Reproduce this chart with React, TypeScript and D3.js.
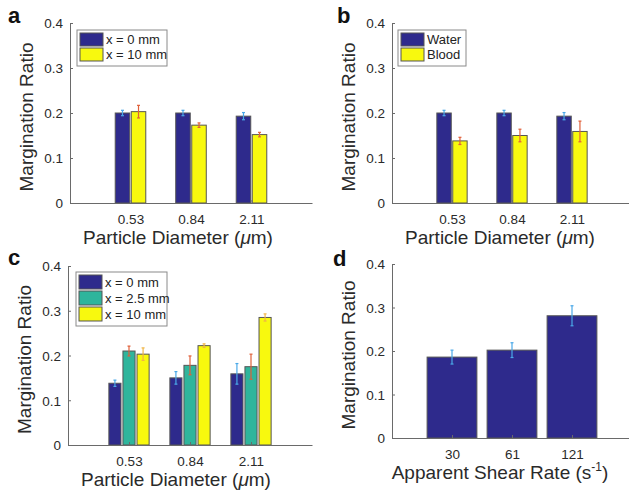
import * as d3 from "d3";
import React, { useEffect, useRef } from "react";

// data
const diameters = ["0.53", "0.84", "2.11"];
const shearRates = ["30", "61", "121"];
const yTicks = [0, 0.1, 0.2, 0.3, 0.4];

const aLabels = ["x = 0 mm", "x = 10 mm"];
const aX0 = [0.2, 0.2, 0.193];
const aX0Err = [0.006, 0.006, 0.008];
const aX10 = [0.203, 0.173, 0.152];
const aX10Err = [0.014, 0.005, 0.005];

const bLabels = ["Water", "Blood"];
const bWater = [0.2, 0.2, 0.193];
const bWaterErr = [0.006, 0.006, 0.008];
const bBlood = [0.138, 0.15, 0.159];
const bBloodErr = [0.008, 0.014, 0.023];

const cLabels = ["x = 0 mm", "x = 2.5 mm", "x = 10 mm"];
const cX0 = [0.138, 0.15, 0.159];
const cX0Err = [0.007, 0.014, 0.023];
const cX25 = [0.21, 0.178, 0.175];
const cX25Err = [0.011, 0.021, 0.028];
const cX10 = [0.203, 0.222, 0.285];
const cX10Err = [0.014, 0.004, 0.008];

const dValues = [0.186, 0.202, 0.281];
const dErr = [0.016, 0.017, 0.023];

const navy = "#2e2a8c";
const teal = "#2fb59c";
const yellow = "#f8f90e";
const errBlue = "#4aa8e8";
const errRed = "#e0603a";
const errOrange = "#f0b545";

const font = "Liberation Sans, Arial, Helvetica, sans-serif";

type Series = { values: number[]; err: number[]; fill: string; errColor: string; label?: string };

type PanelCfg = {
  letter: string;
  left: number;
  y0: number;
  yTop: number;
  width: number;
  cats: string[];
  series: Series[];
  groupWidth: number;
  pad: number;
  xTitle: string;
  superscript?: string;
  tickBase: number;
  titleBase: number;
  letterX: number;
  letterY: number;
  legend?: { x: number; y: number; w: number; rowH: number };
};

const panels: PanelCfg[] = [
  {
    letter: "a", left: 70, y0: 203, yTop: 23, width: 242, cats: diameters,
    series: [
      { values: aX0, err: aX0Err, fill: navy, errColor: errBlue, label: aLabels[0] },
      { values: aX10, err: aX10Err, fill: yellow, errColor: errRed, label: aLabels[1] },
    ],
    groupWidth: 0.505, pad: 0.094, xTitle: "Particle Diameter (", tickBase: 224, titleBase: 244,
    letterX: 8, letterY: 23, legend: { x: 77, y: 30, w: 90, rowH: 15 },
  },
  {
    letter: "b", left: 392, y0: 203, yTop: 23, width: 240, cats: diameters,
    series: [
      { values: bWater, err: bWaterErr, fill: navy, errColor: errBlue, label: bLabels[0] },
      { values: bBlood, err: bBloodErr, fill: yellow, errColor: errRed, label: bLabels[1] },
    ],
    groupWidth: 0.505, pad: 0.094, xTitle: "Particle Diameter (", tickBase: 224, titleBase: 244,
    letterX: 337, letterY: 23, legend: { x: 398, y: 30, w: 68, rowH: 15 },
  },
  {
    letter: "c", left: 68, y0: 445, yTop: 266, width: 244, cats: diameters,
    series: [
      { values: cX0, err: cX0Err, fill: navy, errColor: errBlue, label: cLabels[0] },
      { values: cX25, err: cX25Err, fill: teal, errColor: errRed, label: cLabels[1] },
      { values: cX10, err: cX10Err, fill: yellow, errColor: errOrange, label: cLabels[2] },
    ],
    groupWidth: 0.66, pad: 0.14, xTitle: "Particle Diameter (", tickBase: 466, titleBase: 486,
    letterX: 8, letterY: 265, legend: { x: 76, y: 272, w: 91, rowH: 16 },
  },
  {
    letter: "d", left: 392, y0: 438, yTop: 264, width: 240, cats: shearRates,
    series: [{ values: dValues, err: dErr, fill: navy, errColor: errBlue }],
    groupWidth: 0.83, pad: 0, xTitle: "Apparent Shear Rate (s", superscript: "-1",
    tickBase: 459, titleBase: 479, letterX: 333, letterY: 266,
  },
];

function drawPanel(svg: d3.Selection<SVGSVGElement, unknown, null, undefined>, p: PanelCfg) {
  const g = svg.append("g");
  const y = d3.scaleLinear().domain([0, 0.4]).range([p.y0, p.yTop]);
  const x = d3.scaleLinear().domain([0, 4]).range([p.left, p.left + p.width]);
  const unit = x(1) - x(0);
  const sub = d3.scaleBand<number>()
    .domain(d3.range(p.series.length))
    .range([-p.groupWidth / 2, p.groupWidth / 2])
    .paddingInner(p.pad);

  // bars
  p.series.forEach((s, si) => {
    g.selectAll(null).data(s.values).enter().append("rect")
      .attr("x", (d, i) => x(i + 1 + (sub(si) as number)))
      .attr("y", d => y(d))
      .attr("width", sub.bandwidth() * unit)
      .attr("height", d => y(0) - y(d))
      .attr("fill", s.fill)
      .attr("stroke", "#555")
      .attr("stroke-width", 1);
  });

  // error bars
  p.series.forEach((s, si) => {
    const cx = (i: number) => x(i + 1 + (sub(si) as number) + sub.bandwidth() / 2);
    const eb = g.selectAll(null).data(s.values).enter().append("g")
      .attr("stroke", s.errColor).attr("stroke-width", 1.2);
    eb.append("line")
      .attr("x1", (d, i) => cx(i)).attr("x2", (d, i) => cx(i))
      .attr("y1", (d, i) => y(d - s.err[i])).attr("y2", (d, i) => y(d + s.err[i]));
    [-1, 1].forEach(sign => {
      eb.append("line")
        .attr("x1", (d, i) => cx(i) - 1.5).attr("x2", (d, i) => cx(i) + 1.5)
        .attr("y1", (d, i) => y(d + sign * s.err[i])).attr("y2", (d, i) => y(d + sign * s.err[i]));
    });
  });

  // axes
  const yAxis = g.append("g")
    .attr("transform", `translate(${p.left},0)`)
    .call(d3.axisLeft(y).tickValues(yTicks).tickSizeInner(-3).tickSizeOuter(0).tickPadding(7)
      .tickFormat(d => (d === 0 ? "0" : d3.format(".1f")(d as number))));
  const xAxis = g.append("g")
    .attr("transform", `translate(0,${p.y0})`)
    .call(d3.axisBottom(x).tickValues([1, 2, 3]).tickSizeInner(-3).tickSizeOuter(0)
      .tickFormat(d => p.cats[(d as number) - 1]));
  [yAxis, xAxis].forEach(a => {
    a.selectAll("path,line").attr("stroke", "#6a6a6a");
    a.selectAll("text").attr("font-family", font).attr("font-size", 13.5).attr("fill", "#2a2a2a");
  });
  xAxis.selectAll("text").attr("dy", null).attr("y", p.tickBase - p.y0);
  yAxis.selectAll("text").attr("dy", "0.36em");

  // titles
  g.append("text")
    .attr("transform", `translate(${p.left - 37},${(p.y0 + p.yTop) / 2 + 4}) rotate(-90)`)
    .attr("text-anchor", "middle").attr("font-family", font).attr("font-size", 19)
    .attr("fill", "#2a2a2a").text("Margination Ratio");
  const xt = g.append("text")
    .attr("x", p.left + 108).attr("y", p.titleBase)
    .attr("text-anchor", "middle").attr("font-family", font).attr("font-size", 19)
    .attr("fill", "#2a2a2a");
  xt.append("tspan").text(p.xTitle);
  if (p.superscript) {
    xt.append("tspan").attr("font-size", 12).attr("dy", -8).text(p.superscript);
    xt.append("tspan").attr("dy", 8).text(")");
  } else {
    xt.append("tspan").attr("font-style", "italic").text("\u03bc");
    xt.append("tspan").text("m)");
  }

  g.append("text")
    .attr("x", p.letterX).attr("y", p.letterY)
    .attr("font-family", font).attr("font-weight", "bold").attr("font-size", 22)
    .attr("fill", "#111").text(p.letter);

  // legend
  if (p.legend) {
    const L = p.legend;
    const n = p.series.length;
    g.append("rect")
      .attr("x", L.x).attr("y", L.y).attr("width", L.w).attr("height", n * L.rowH + 6)
      .attr("fill", "#fff").attr("stroke", "#8a8a8a").attr("stroke-width", 1);
    const row = g.selectAll(null).data(p.series).enter().append("g")
      .attr("transform", (d, i) => `translate(${L.x + 3},${L.y + 3 + i * L.rowH})`);
    row.append("rect")
      .attr("width", 23).attr("height", L.rowH - 2)
      .attr("fill", d => d.fill).attr("stroke", "#555");
    row.append("text")
      .attr("x", 26).attr("y", (L.rowH - 2) / 2).attr("dy", "0.36em")
      .attr("font-family", font).attr("font-size", 13).attr("fill", "#222")
      .text(d => d.label || "");
  }
}

export default function App() {
  const ref = useRef<SVGSVGElement>(null);

  useEffect(() => {
    const svg = d3.select(ref.current!);
    svg.selectAll("*").remove();
    panels.forEach(p => drawPanel(svg, p));
  }, []);

  return (
    <svg
      ref={ref}
      width={629}
      height={491}
      style={{ position: "absolute", left: 0, top: 0, background: "#fff" }}
    />
  );
}
